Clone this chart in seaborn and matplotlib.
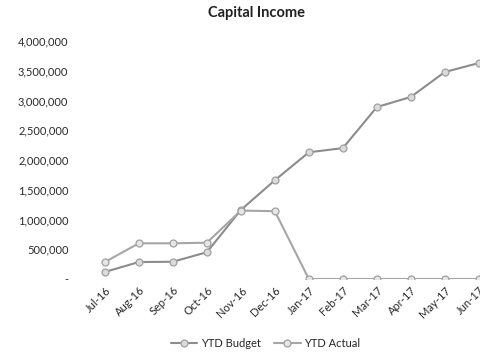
import matplotlib
matplotlib.use("Agg")
import matplotlib.pyplot as plt
import matplotlib.ticker as mticker
import pandas as pd
import seaborn as sns

months = ["Jul-16", "Aug-16", "Sep-16", "Oct-16", "Nov-16", "Dec-16",
          "Jan-17", "Feb-17", "Mar-17", "Apr-17", "May-17", "Jun-17"]
ytd_budget = [118000, 285000, 290000, 450000, 1160000, 1660000,
              2130000, 2200000, 2890000, 3060000, 3480000, 3630000]
ytd_actual = [285000, 600000, 600000, 610000, 1150000, 1140000,
              0, 0, 0, 0, 0, 0]
y_ticks = [0, 500000, 1000000, 1500000, 2000000, 2500000, 3000000, 3500000, 4000000]

df = pd.DataFrame({
    "Month": months * 2,
    "Value": ytd_budget + ytd_actual,
    "Series": ["YTD Budget"] * len(months) + ["YTD Actual"] * len(months),
})

sns.set_theme(style="white")
plt.rcParams["font.family"] = ["Lato", "DejaVu Sans"]

fig = plt.figure(figsize=(4.8, 3.6), dpi=100)
ax = fig.add_axes([0.183, 0.225, 0.85, 0.661])

palette = {"YTD Budget": "#8c8c8c", "YTD Actual": "#a6a6a6"}
faces = {"YTD Budget": "#dadada", "YTD Actual": "#e6e6e6"}
for name in ["YTD Budget", "YTD Actual"]:
    sub = df[df["Series"] == name]
    sns.lineplot(data=sub, x="Month", y="Value", ax=ax, sort=False,
                 color=palette[name], linewidth=1.5, marker="o",
                 markersize=5, markerfacecolor=faces[name],
                 markeredgecolor="#a0a0a0", markeredgewidth=0.9,
                 label=name)

ax.set_xlim(-0.5, len(months) - 0.5)
ax.set_ylim(0, 4000000)
ax.set_yticks(y_ticks)
ax.yaxis.set_major_formatter(mticker.FuncFormatter(
    lambda v, p: "-" if v == 0 else f"{int(v):,}"))
ax.set_xlabel("")
ax.set_ylabel("")
for s in ax.spines.values():
    s.set_visible(False)
ax.grid(False)
ax.tick_params(axis="y", labelsize=8, colors="#2a2a2a", pad=14, length=0)
ax.tick_params(axis="x", labelsize=8, colors="#2a2a2a", pad=4, length=0)
for lab in ax.get_xticklabels():
    lab.set_rotation(45)
    lab.set_ha("right")
    lab.set_rotation_mode("anchor")

fig.text(0.535, 0.965, "Capital Income", ha="center", va="center",
         fontsize=10.5, fontweight="bold", color="#222222")

ax.legend(loc="center", ncol=2, frameon=False, fontsize=8,
          handlelength=2.4, columnspacing=1.2, handletextpad=0.3,
          bbox_to_anchor=(0.553, 0.045), bbox_transform=fig.transFigure)

fig.savefig("out.png", dpi=100)
